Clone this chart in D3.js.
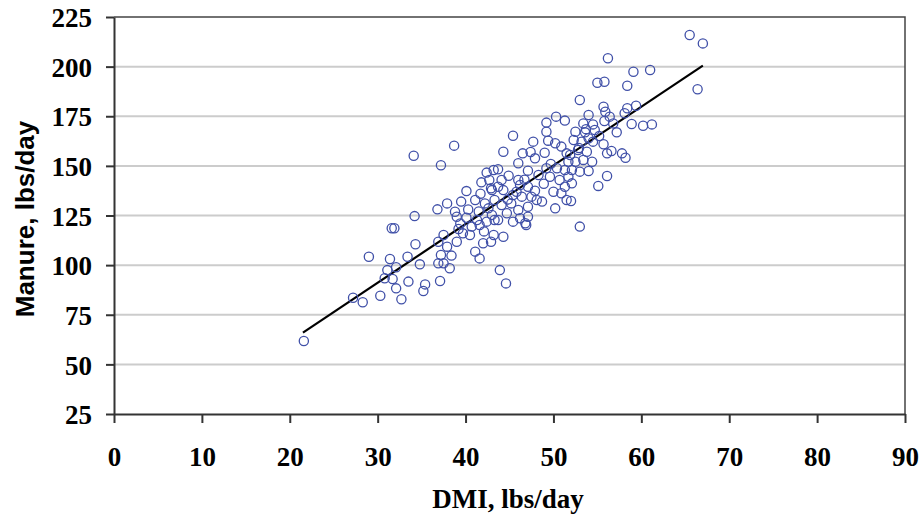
<!DOCTYPE html>
<html>
<head>
<meta charset="utf-8">
<script src="https://cdn.jsdelivr.net/npm/d3@7"></script>
<style>
  body { margin: 0; background: #fff; }
  .tick text { font-family: "Liberation Serif", "Times New Roman", serif; font-weight: bold; font-size: 27px; fill: #000; }
</style>
</head>
<body>
<div id="chart"></div>
<script>
// chart size
var svgWidth = 923;
var svgHeight = 523;

var margin = { top: 17, right: 18, bottom: 109, left: 114 };
var width = svgWidth - margin.left - margin.right;
var height = svgHeight - margin.top - margin.bottom;

// axis ticks
var xTicks = [0, 10, 20, 30, 40, 50, 60, 70, 80, 90];
var yTicks = [25, 50, 75, 100, 125, 150, 175, 200, 225];

// DMI (lbs/day) readings
var dmi = [
  21.6, 27.2, 28.3, 30.3, 32.7, 32.1, 30.8, 31.7, 33.5, 31.1, 32.1, 31.4, 29.0, 33.4, 31.6, 31.9,
  34.2, 34.3, 34.8, 35.4, 35.2, 37.1, 36.8, 37.9, 36.9, 37.5, 37.9, 37.2, 36.9, 37.5, 38.2, 38.4,
  38.8, 39.0, 39.0, 39.2, 39.5, 39.7, 40.1, 40.1, 40.5, 40.7, 41.1, 41.1, 41.3, 41.6, 41.6, 41.8,
  42.0, 42.2, 42.4, 42.6, 42.7, 42.9, 42.9,
  38.7, 34.1, 37.2, 42.4, 43.2,
  50.3, 51.3, 49.2, 49.2, 45.4, 47.7, 49.4, 50.2, 50.9, 44.3, 46.5, 49.0, 47.9, 51.5, 51.7, 46.0,
  43.7, 47.1, 49.2, 50.4, 51.3, 48.3, 49.6, 46.0, 46.2, 44.1, 43.7, 47.1, 47.9, 50.7, 51.3, 43.0,
  44.3, 45.4, 46.4, 47.5, 50.9, 51.5, 48.7, 43.3, 44.1, 45.2, 46.0, 47.1, 48.1, 50.2, 43.0, 44.7,
  46.2, 47.1, 45.4, 46.8, 43.3,
  43.9, 44.6, 44.3, 43.2, 43.7, 46.9,
  56.2, 59.1, 61.0, 55.0, 55.8, 58.4, 53.0, 55.7, 55.9, 56.4, 58.4, 59.4, 58.1, 54.0, 55.8, 56.8,
  58.9, 60.2, 61.2, 53.4, 54.5, 52.5, 53.6, 54.7, 57.2, 52.3, 53.2, 54.0, 54.5, 55.7, 56.1, 56.6,
  57.8, 58.2, 52.8, 53.8, 51.9, 52.5, 53.4, 54.4, 52.1, 53.0, 54.0, 56.1, 55.1, 52.1, 51.7,
  65.5, 67.0, 66.4, 53.0, 52.0,
  41.5, 42.1, 40.3, 44.8, 45.8, 46.7, 48.9, 50.0, 49.7, 52.9, 53.7, 55.2, 47.4, 44.9, 41.7, 39.4
];

// manure (lbs/day) readings, same order as dmi
var manure = [
  61.8, 83.6, 81.3, 84.6, 82.8, 88.3, 93.4, 93.0, 91.7, 97.5, 98.9, 103.1, 104.2, 104.2, 118.6, 118.6,
  124.7, 110.5, 100.4, 90.3, 87.0, 92.0, 128.1, 131.1, 111.8, 115.2, 109.3, 105.1, 100.9, 100.9, 98.4, 104.8,
  126.9, 124.4, 111.8, 118.2, 132.0, 116.0, 137.3, 123.9, 115.2, 119.4, 132.8, 106.8, 122.7, 120.2, 103.4, 141.7,
  111.0, 131.1, 121.9, 128.6, 142.9, 138.7, 111.8,
  160.2, 155.1, 150.3, 146.6, 147.9,
  174.8, 172.8, 171.8, 167.2, 165.2, 162.2, 162.7, 161.4, 159.7, 157.1, 156.3, 156.6, 153.8, 156.3, 152.1, 151.3,
  148.3, 147.6, 148.8, 148.8, 147.9, 145.4, 144.5, 142.9, 140.4, 142.9, 139.5, 139.5, 137.5, 142.9, 139.5, 137.8,
  137.8, 135.3, 134.5, 134.5, 136.2, 132.8, 132.0, 132.8, 130.3, 131.1, 127.8, 129.4, 132.8, 128.6, 125.3, 126.1,
  123.6, 124.4, 121.9, 121.1, 122.7,
  97.5, 90.8, 114.3, 115.2, 122.7, 120.2,
  204.2, 197.4, 198.3, 191.9, 192.4, 190.4, 183.2, 179.8, 177.3, 174.8, 179.0, 180.3, 176.5, 175.6, 172.6, 171.4,
  171.1, 170.2, 170.9, 171.4, 170.9, 167.2, 166.9, 168.1, 166.9, 163.0, 162.2, 163.9, 162.2, 160.9, 156.3, 157.5,
  156.3, 154.1, 158.0, 157.1, 155.5, 152.1, 153.0, 152.1, 147.9, 147.1, 147.4, 144.9, 139.9, 141.2, 144.5,
  215.9, 211.7, 188.6, 119.4, 132.3,
  127.0, 117.0, 128.0, 133.0, 137.0, 143.0, 141.0, 137.0, 151.0, 159.0, 168.5, 165.0, 157.0, 145.0, 136.0, 121.0
];

// trend line end points
var lineX = [21.5, 67.0];
var lineY = [66.0, 200.5];

var data = dmi.map(function(d, i) { return { x: d, y: manure[i] }; });

var svg = d3.select('#chart').append('svg')
  .attr('width', svgWidth)
  .attr('height', svgHeight);

var chartGroup = svg.append('g')
  .attr('transform', `translate(${margin.left}, ${margin.top})`);

var xLinearScale = d3.scaleLinear().domain([0, 90]).range([0, width]);
var yLinearScale = d3.scaleLinear().domain([25, 225]).range([height, 0]);

// gridlines
chartGroup.selectAll('.grid')
  .data(yTicks.slice(1, -1))
  .enter()
  .append('line')
  .attr('x1', 0)
  .attr('x2', width)
  .attr('y1', d => yLinearScale(d))
  .attr('y2', d => yLinearScale(d))
  .attr('stroke', '#cccccc')
  .attr('stroke-width', 2);

// frame on top and right
chartGroup.append('path')
  .attr('d', `M0,0H${width}V${height}`)
  .attr('fill', 'none')
  .attr('stroke', '#444')
  .attr('stroke-width', 1.5);

// axes
var bottomAxis = d3.axisBottom(xLinearScale).tickValues(xTicks).tickSize(9).tickSizeOuter(0).tickPadding(24);
var leftAxis = d3.axisLeft(yLinearScale).tickValues(yTicks).tickSize(8).tickSizeOuter(0).tickPadding(14);

var xAxis = chartGroup.append('g')
  .attr('transform', `translate(0, ${height})`)
  .call(bottomAxis);

var yAxis = chartGroup.append('g')
  .call(leftAxis);

[xAxis, yAxis].forEach(function(ax) {
  ax.select('.domain').attr('stroke', '#333').attr('stroke-width', 2);
  ax.selectAll('.tick line').attr('stroke', '#333').attr('stroke-width', 2);
});
yAxis.selectAll('.tick text').attr('dy', '0.36em');

// trend line
chartGroup.append('line')
  .attr('x1', xLinearScale(lineX[0]))
  .attr('y1', yLinearScale(lineY[0]))
  .attr('x2', xLinearScale(lineX[1]))
  .attr('y2', yLinearScale(lineY[1]))
  .attr('stroke', '#000')
  .attr('stroke-width', 2.2);

// points
chartGroup.selectAll('circle')
  .data(data)
  .enter()
  .append('circle')
  .attr('cx', d => xLinearScale(d.x))
  .attr('cy', d => yLinearScale(d.y))
  .attr('r', 4.6)
  .attr('fill', 'none')
  .attr('stroke', '#4050a8')
  .attr('stroke-width', 1.3);

// axis titles
svg.append('text')
  .attr('x', 508)
  .attr('y', 508)
  .attr('text-anchor', 'middle')
  .attr('font-family', '"Liberation Serif", "Times New Roman", serif')
  .attr('font-weight', 'bold')
  .attr('font-size', '27px')
  .text('DMI, lbs/day');

svg.append('text')
  .attr('transform', 'translate(34, 219) rotate(-90)')
  .attr('text-anchor', 'middle')
  .attr('font-family', '"Liberation Sans", Arial, sans-serif')
  .attr('font-weight', 'bold')
  .attr('font-size', '26px')
  .text('Manure, lbs/day');
</script>
</body>
</html>
